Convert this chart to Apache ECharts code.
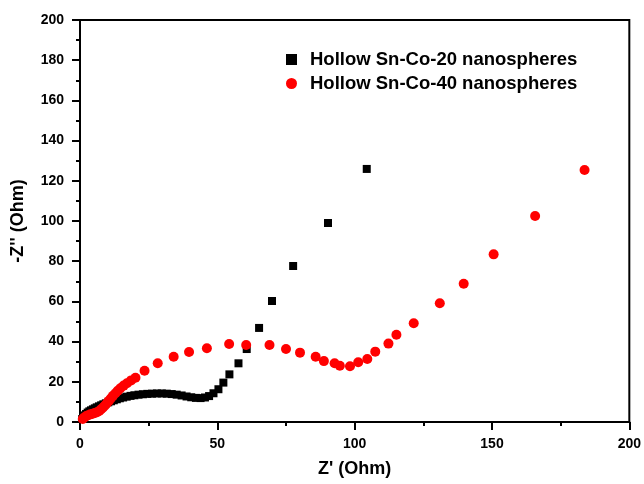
<!DOCTYPE html>
<html><head><meta charset="utf-8">
<script src="https://cdn.jsdelivr.net/npm/echarts@6/dist/echarts.min.js"></script>
<style>html,body{margin:0;padding:0;background:#fff}#c{width:644px;height:484px}</style>
</head><body><div id="c"></div>
<script>
const seriesNames = ['Hollow Sn-Co-20 nanospheres', 'Hollow Sn-Co-40 nanospheres'];
const co20X = [0.8,1.2,1.7,2.2,2.8,3.4,4.0,4.7,5.4,6.1,6.9,7.7,8.5,9.4,10.3,11.3,12.3,13.4,14.5,15.7,17.0,18.4,19.8,21.3,22.9,24.5,26.2,28.0,29.8,31.6,33.4,35.2,37.0,38.8,40.5,42.2,43.9,45.5,47.0,48.6,50.4,52.2,54.4,57.7,60.7,65.2,69.9,77.6,90.3,104.4];
const co20Y = [1.5,2.5,3.3,4.0,4.7,5.3,5.8,6.3,6.8,7.3,7.8,8.3,8.8,9.3,9.8,10.3,10.8,11.3,11.8,12.2,12.6,13.0,13.3,13.6,13.8,14.0,14.1,14.2,14.2,14.1,13.9,13.6,13.2,12.7,12.3,12.0,11.9,12.2,12.9,14.3,16.3,19.6,23.7,29.2,36.3,46.8,60.2,77.6,99.0,125.9];
const co40X = [1.0,1.6,2.3,3.0,3.8,4.6,5.4,6.2,7.0,7.7,8.4,9.1,9.8,10.5,11.2,12.0,12.9,13.8,14.7,15.9,17.1,18.6,20.2,23.5,28.3,34.1,39.7,46.2,54.3,60.5,69.0,75.0,80.1,85.8,88.8,92.7,94.6,98.3,101.3,104.6,107.5,112.3,115.2,121.5,131.0,139.7,150.6,165.7,183.7];
const co40Y = [1.5,2.3,3.0,3.4,3.8,4.1,4.5,4.9,5.5,6.3,7.2,8.2,9.3,10.5,11.7,13.0,14.3,15.6,16.8,18.1,19.3,20.7,22.0,25.5,29.2,32.5,34.8,36.7,38.8,38.3,38.3,36.3,34.5,32.5,30.3,29.2,28.0,27.7,29.7,31.3,35.0,39.0,43.4,49.1,59.1,68.8,83.4,102.5,125.4];
const xTicks = [0, 50, 100, 150, 200];
const yTicks = [0, 20, 40, 60, 80, 100, 120, 140, 160, 180, 200];

const font = 'Liberation Sans, Arial, sans-serif';
const zip = (a, b) => a.map((v, i) => [v, b[i]]);
const chart = echarts.init(document.getElementById('c'), null, {renderer: 'canvas'});
const axisCommon = {
  axisLine: {show: true, lineStyle: {color: '#000', width: 2}},
  axisTick: {show: true, inside: false, length: 8, lineStyle: {color: '#000', width: 2}},
  minorTick: {show: true, splitNumber: 2, length: 4, lineStyle: {color: '#000', width: 2}},
  splitLine: {show: false},
  nameTextStyle: {fontFamily: font, fontWeight: 'bold', fontSize: 18, color: '#000'},
  axisLabel: {fontFamily: font, fontWeight: 'bold', fontSize: 14, color: '#000'}
};
chart.setOption({
  animation: false,
  backgroundColor: '#fff',
  grid: {left: 80, top: 20, width: 550, height: 402, show: true, borderColor: '#000', borderWidth: 2, backgroundColor: 'transparent'},
  legend: {
    orient: 'vertical', left: 281, top: 45, itemGap: 5, itemWidth: 11, itemHeight: 11,
    textStyle: {fontFamily: font, fontWeight: 'bold', fontSize: 18.5, color: '#000', padding: [0, 0, 0, 8]},
    data: [{name: seriesNames[0], icon: 'rect'}, {name: seriesNames[1], icon: 'circle'}]
  },
  xAxis: Object.assign({}, axisCommon, {
    type: 'value', min: xTicks[0], max: xTicks[xTicks.length - 1], interval: 50,
    name: "Z' (Ohm)", nameLocation: 'middle', nameGap: 38,
    axisLabel: Object.assign({}, axisCommon.axisLabel, {margin: 15})
  }),
  yAxis: Object.assign({}, axisCommon, {
    type: 'value', min: yTicks[0], max: yTicks[yTicks.length - 1], interval: 20,
    name: "-Z'' (Ohm)", nameLocation: 'middle', nameGap: 53, nameRotate: 90,
    axisLabel: Object.assign({}, axisCommon.axisLabel, {margin: 16})
  }),
  series: [
    {name: seriesNames[0], type: 'scatter', symbol: 'rect', symbolSize: 8, itemStyle: {color: '#000', opacity: 1}, data: zip(co20X, co20Y), z: 2},
    {name: seriesNames[1], type: 'scatter', symbol: 'circle', symbolSize: 10, itemStyle: {color: '#ff0000', opacity: 1}, data: zip(co40X, co40Y), z: 3}
  ]
});
</script></body></html>
